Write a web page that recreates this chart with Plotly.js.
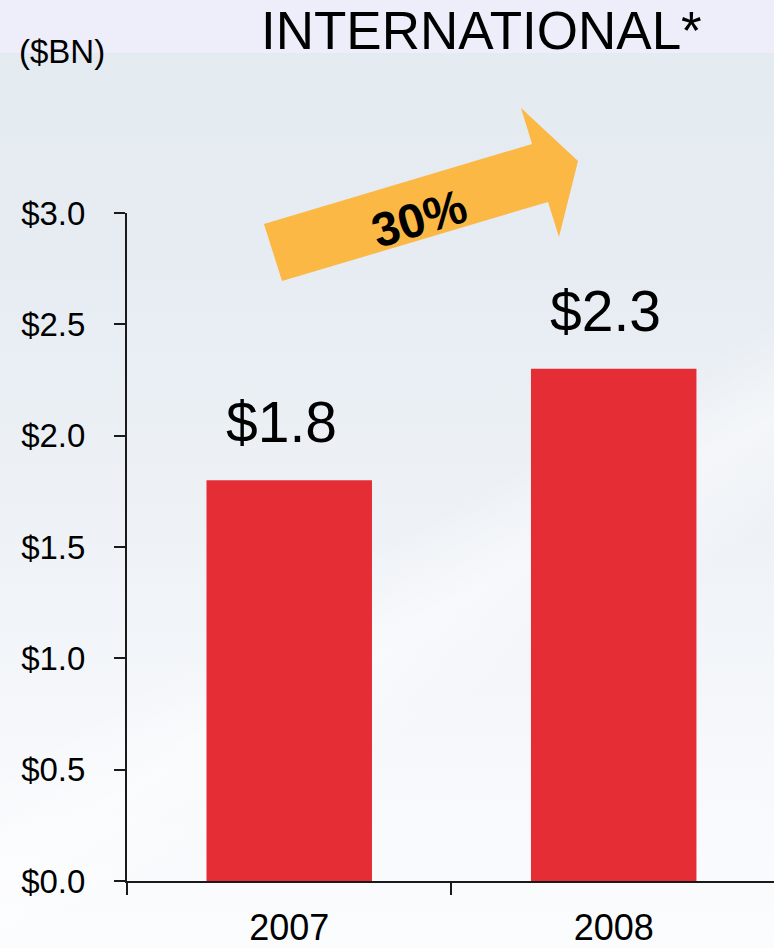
<!DOCTYPE html>
<html>
<head>
<meta charset="utf-8">
<script src="https://cdn.plot.ly/plotly-3.0.1.min.js"></script>
<style>
  html, body { margin: 0; padding: 0; }
  body { width: 774px; height: 948px; overflow: hidden; position: relative;
    background: linear-gradient(180deg, #e3eaf0 0px, #e6ecf2 250px, #edf1f6 500px, #f6f8fb 750px, #fbfcfe 948px); }
  #band { position: absolute; left: 0; top: 0; width: 774px; height: 53px; background: #eeedfa; }
  #streak { position: absolute; left: 0; top: 0; width: 774px; height: 948px;
    background: linear-gradient(150deg, rgba(255,255,255,0) 0%, rgba(255,255,255,0) 55%, rgba(255,255,255,0.45) 62%, rgba(255,255,255,0) 70%, rgba(255,255,255,0) 100%); }
  #chart { position: absolute; left: 0; top: 0; width: 774px; height: 948px; }
</style>
</head>
<body>
<div id="band"></div>
<div id="streak"></div>
<div id="chart"></div>
<script>
// ---- data ----
const years = ['2007', '2008'];
const revenue = [1.8, 2.3];           // $BN
const growthLabel = '30%';
const chartTitle = 'INTERNATIONAL*';
const unitLabel = '($BN)';

// ---- geometry helpers (decoration only) ----
const W = 774, H = 948;
const M = { l: 127, r: 0, t: 213, b: 67 };
const PW = W - M.l - M.r, PH = H - M.t - M.b;
const px = x => (x - M.l) / PW;
const py = y => (H - M.b - y) / PH;

const arrowPts = [[282,281],[264,224],[532,144],[521,108],[578,161],[559,237],[548,202]];
const arrowPath = 'M ' + arrowPts.map(p => px(p[0]).toFixed(4) + ',' + py(p[1]).toFixed(4)).join(' L ') + ' Z';

const font = 'Liberation Sans, Arial, Helvetica, sans-serif';

const trace = {
  type: 'bar',
  x: years,
  y: revenue,
  width: 0.51,
  marker: { color: '#e52d36', line: { width: 0 } },
  hoverinfo: 'none'
};

const annotations = revenue.map((v, i) => ({
  x: i, y: v, xref: 'x', yref: 'y',
  text: '&#36;' + v.toFixed(1),
  showarrow: false, yanchor: 'bottom', xanchor: 'center',
  yshift: 24, xshift: -8,
  font: { family: font, size: 57, color: '#000' }
}));

annotations.push({
  x: px(419), y: py(218), xref: 'paper', yref: 'paper',
  text: '<b>' + growthLabel + '</b>', showarrow: false,
  textangle: -17, xanchor: 'center', yanchor: 'middle',
  font: { family: font, size: 48, color: '#000' }
});
annotations.push({
  x: px(481), y: py(30), xref: 'paper', yref: 'paper',
  text: chartTitle, showarrow: false, xanchor: 'center', yanchor: 'middle',
  font: { family: font, size: 53, color: '#000' }
});
annotations.push({
  x: px(62), y: py(52), xref: 'paper', yref: 'paper',
  text: unitLabel, showarrow: false, xanchor: 'center', yanchor: 'middle',
  font: { family: font, size: 33, color: '#000' }
});

const layout = {
  width: W, height: H, autosize: false,
  margin: M,
  paper_bgcolor: 'rgba(0,0,0,0)',
  plot_bgcolor: 'rgba(0,0,0,0)',
  showlegend: false,
  font: { family: font, color: '#000' },
  xaxis: {
    type: 'category', range: [-0.5, 1.494], fixedrange: true,
    showline: true, linecolor: '#1a1a1a', linewidth: 2,
    ticks: 'outside', tickson: 'boundaries', ticklen: 12, tickwidth: 2, tickcolor: '#1a1a1a',
    tickfont: { family: font, size: 36, color: '#000' },
    ticklabelstandoff: 14,
    showgrid: false, zeroline: false
  },
  yaxis: {
    range: [0, 3], dtick: 0.5, tick0: 0, fixedrange: true,
    tickprefix: '$', tickformat: '.1f',
    showline: true, linecolor: '#1a1a1a', linewidth: 2,
    ticks: 'outside', ticklen: 11, tickwidth: 2, tickcolor: '#1a1a1a',
    tickfont: { family: font, size: 33, color: '#000' },
    ticklabelstandoff: 22,
    showgrid: false, zeroline: false
  },
  shapes: [{
    type: 'path', xref: 'paper', yref: 'paper', path: arrowPath,
    fillcolor: '#fbb845', line: { width: 0 }, layer: 'below'
  }],
  annotations: annotations
};

Plotly.newPlot('chart', [trace], layout, { displayModeBar: false, staticPlot: true });
</script>
</body>
</html>
